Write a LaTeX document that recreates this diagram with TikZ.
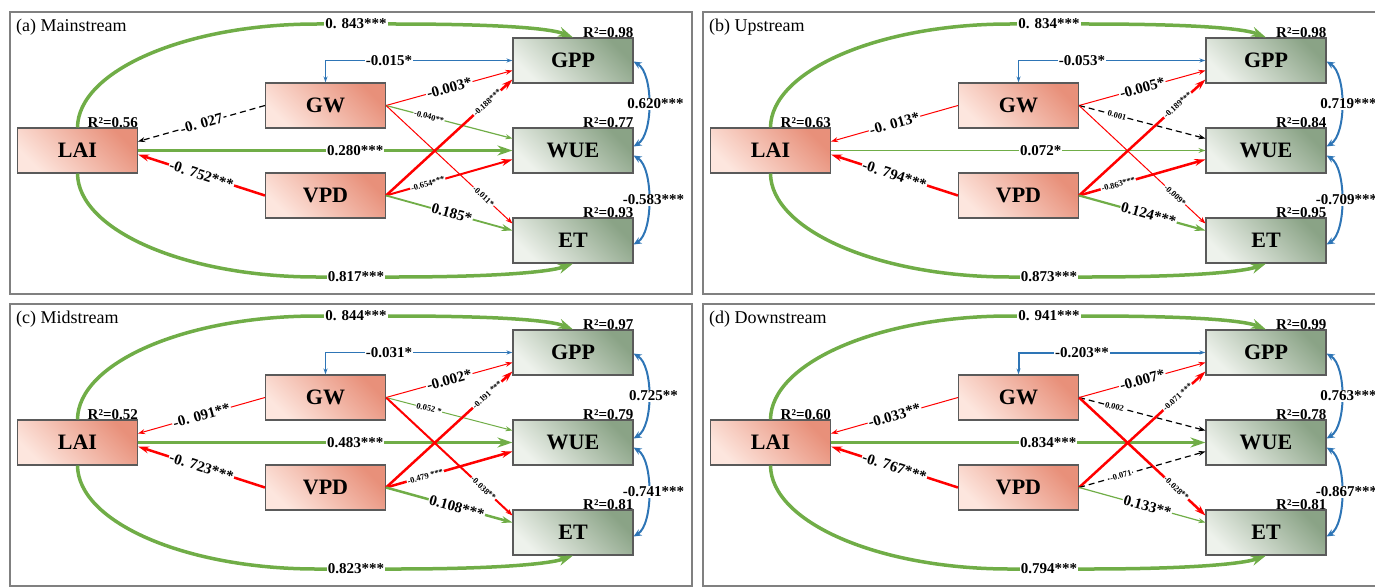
\documentclass[tikz,border=0pt]{standalone}
\usepackage{fontspec}
\setmainfont{Liberation Serif}
\usetikzlibrary{arrows.meta,calc}
\definecolor{mygreen}{HTML}{70AD47}
\definecolor{myred}{HTML}{FF0000}
\definecolor{myblue}{HTML}{2E75B6}
\definecolor{pinkD}{HTML}{E8907A}
\definecolor{pinkL}{HTML}{FDE6DE}
\definecolor{sageD}{HTML}{8AA386}
\definecolor{sageL}{HTML}{EEF2EC}
\definecolor{boxline}{HTML}{5A5A5A}
\definecolor{frameline}{HTML}{808080}
\tikzset{
  panelframe/.style={draw=frameline,line width=1.2pt},
  ttl/.style={anchor=west,inner sep=0pt,font=\fontsize{18}{20}\selectfont},
  basebox/.style={draw=boxline,line width=1.1pt,minimum width=120pt,minimum height=45pt,inner sep=0pt,font=\fontsize{22}{24}\selectfont\bfseries},
  pbox/.style={basebox,top color=pinkD,bottom color=pinkL,shading angle=-45},
  gbox/.style={basebox,top color=sageD,bottom color=sageL,shading angle=-45},
  r2/.style={anchor=south east,inner sep=0pt,font=\fontsize{15}{16}\selectfont\bfseries},
  lbl/.style={fill=white,inner sep=1pt,font=\fontsize{15}{16}\selectfont\bfseries},
  slbl/.style={fill=white,inner sep=0.8pt,sloped,font=\fontsize{8.5}{9}\selectfont\bfseries},
  lw/.style={line width=#1},
  cg/.style={draw=mygreen},
  cr/.style={draw=myred},
  cb/.style={draw=myblue},
  ck/.style={draw=black,dash pattern=on 6pt off 4pt},
  arS/.style={-{Stealth[length=7pt,width=5pt]}},
  arM/.style={-{Stealth[length=11pt,width=7pt]}},
  arL/.style={-{Stealth[length=15pt,width=10pt]}},
  arBS/.style={{Stealth[length=6pt,width=4pt]}-{Stealth[length=6pt,width=4pt]}},
  arB/.style={{Stealth[length=8pt,width=7pt]}-{Stealth[length=8pt,width=7pt]}},
}
\newcommand\panelboxes[6]{%
  \draw[panelframe] (10,12) rectangle (692,294);
  \node[ttl] (#1T) at (16,27) {#2};
  \node[pbox] (#1LAI) at (77.5,150.5) {LAI};
  \node[pbox] (#1GW) at (325.5,105.5) {GW};
  \node[pbox] (#1VPD) at (325.5,195.5) {VPD};
  \node[gbox] (#1GPP) at (573,60.5) {GPP};
  \node[gbox] (#1WUE) at (573,150.5) {WUE};
  \node[gbox] (#1ET) at (573,240.5) {ET};
  \node[r2] (#1rL) at (#1LAI.north east) {R²=#3};
  \node[r2] (#1rG) at (#1GPP.north east) {R²=#4};
  \node[r2] (#1rW) at (#1WUE.north east) {R²=#5};
  \node[r2] (#1rE) at (#1ET.north east) {R²=#6};
}
\begin{document}
\begin{tikzpicture}[x=1pt,y=-1pt]
\useasboundingbox (0,0) rectangle (1375,586);
% ---------------- (a)
\begin{scope}
\panelboxes{a}{(a) Mainstream}{0.56}{0.98}{0.77}{0.93}
\draw[cg,lw=3.5,arL] (aLAI.north) .. controls (78,71) and (185,24) .. (317,24) -- node[lbl]{0. 843***} (395,24) .. controls (495,24) and (550,28) .. (aGPP.north);
\draw[cg,lw=3.5,arL] (aLAI.south) .. controls (78,230) and (185,277) .. (317,277) -- node[lbl]{0.817***} (395,277) .. controls (495,277) and (550,272) .. (aET.south);
\draw[cg,lw=3,arL] (aLAI.east) -- node[lbl,pos=0.58]{0.280***} (aWUE.west);
\draw[ck,lw=1.2,arS] (aGW.west) -- node[lbl,sloped]{-0. 027} ($(aLAI.east)+(0,-9)$);
\draw[cr,lw=2.5,arM] (aVPD.west) -- node[lbl,sloped]{-0. 752***} ($(aLAI.east)+(0,4)$);
\draw[cb,lw=1,arBS] (aGW.north) |- node[lbl,pos=0.67]{-0.015*} (aGPP.west);
\draw[cr,lw=1,arS] (aGW.east) -- node[lbl,sloped]{-0.003*} ($(aGPP.west)+(0,10)$);
\draw[cg,lw=1.2,arS] (aGW.east) -- node[slbl,pos=0.34]{-0.040**} ($(aWUE.west)+(0,-12)$);
\draw[cr,lw=1,arS] (aGW.east) -- node[slbl,pos=0.77]{-0.011*} ($(aET.west)+(0,-17)$);
\draw[cr,lw=2.5,arM] (aVPD.east) -- node[slbl,pos=0.8]{-0.188***} ($(aGPP.west)+(0,19)$);
\draw[cr,lw=2,arM] (aVPD.east) -- node[slbl,pos=0.33]{-0.654***} ($(aWUE.west)+(0,9)$);
\draw[cg,lw=1.8,arM] (aVPD.east) -- node[lbl,sloped,pos=0.52]{0.185*} ($(aET.west)+(0,-10)$);
\draw[cb,lw=2,arB] ($(aGPP.east)+(0,1)$) .. controls +(20,12) and +(20,-12) .. node[lbl,xshift=7pt]{0.620***} ($(aWUE.east)+(0,-4)$);
\draw[cb,lw=2,arB] ($(aWUE.east)+(0,5)$) .. controls +(20,12) and +(20,-12) .. node[lbl,xshift=5pt]{-0.583***} ($(aET.east)+(0,4)$);
\end{scope}
% ---------------- (b)
\begin{scope}[shift={(693,0)}]
\panelboxes{b}{(b) Upstream}{0.63}{0.98}{0.84}{0.95}
\draw[cg,lw=3.5,arL] (bLAI.north) .. controls (78,71) and (185,24) .. (317,24) -- node[lbl]{0. 834***} (395,24) .. controls (495,24) and (550,28) .. (bGPP.north);
\draw[cg,lw=3.5,arL] (bLAI.south) .. controls (78,230) and (185,277) .. (317,277) -- node[lbl]{0.873***} (395,277) .. controls (495,277) and (550,272) .. (bET.south);
\draw[cg,lw=1,arS] (bLAI.east) -- node[lbl,pos=0.56]{0.072*} (bWUE.west);
\draw[cr,lw=1,arS] (bGW.west) -- node[lbl,sloped]{-0. 013*} ($(bLAI.east)+(0,-9)$);
\draw[cr,lw=2.5,arM] (bVPD.west) -- node[lbl,sloped]{-0. 794***} ($(bLAI.east)+(0,4)$);
\draw[cb,lw=1,arBS] (bGW.north) |- node[lbl,pos=0.67]{-0.053*} (bGPP.west);
\draw[cr,lw=1,arS] (bGW.east) -- node[lbl,sloped]{-0.005*} ($(bGPP.west)+(0,10)$);
\draw[ck,lw=1.2,arS] (bGW.east) -- node[slbl,pos=0.3]{0.001} ($(bWUE.west)+(0,-12)$);
\draw[cr,lw=1,arS] (bGW.east) -- node[slbl,pos=0.76]{-0.009*} ($(bET.west)+(0,-17)$);
\draw[cr,lw=2.5,arM] (bVPD.east) -- node[slbl,pos=0.78]{-0.189***} ($(bGPP.west)+(0,19)$);
\draw[cr,lw=2.5,arM] (bVPD.east) -- node[slbl,pos=0.31]{-0.863***} ($(bWUE.west)+(0,9)$);
\draw[cg,lw=2.2,arM] (bVPD.east) -- node[lbl,sloped,pos=0.55]{0.124***} ($(bET.west)+(0,-10)$);
\draw[cb,lw=2,arB] ($(bGPP.east)+(0,1)$) .. controls +(20,12) and +(20,-12) .. node[lbl,xshift=7pt]{0.719***} ($(bWUE.east)+(0,-4)$);
\draw[cb,lw=2,arB] ($(bWUE.east)+(0,5)$) .. controls +(20,12) and +(20,-12) .. node[lbl,xshift=5pt]{-0.709***} ($(bET.east)+(0,4)$);
\end{scope}
% ---------------- (c)
\begin{scope}[shift={(0,292)}]
\panelboxes{c}{(c) Midstream}{0.52}{0.97}{0.79}{0.81}
\draw[cg,lw=3.5,arL] (cLAI.north) .. controls (78,71) and (185,24) .. (317,24) -- node[lbl]{0. 844***} (395,24) .. controls (495,24) and (550,28) .. (cGPP.north);
\draw[cg,lw=3.5,arL] (cLAI.south) .. controls (78,230) and (185,277) .. (317,277) -- node[lbl]{0.823***} (395,277) .. controls (495,277) and (550,272) .. (cET.south);
\draw[cg,lw=3,arL] (cLAI.east) -- node[lbl,pos=0.58]{0.483***} (cWUE.west);
\draw[cr,lw=1,arS] (cGW.west) -- node[lbl,sloped]{-0. 091**} ($(cLAI.east)+(0,-9)$);
\draw[cr,lw=2.5,arM] (cVPD.west) -- node[lbl,sloped]{-0. 723***} ($(cLAI.east)+(0,4)$);
\draw[cb,lw=1,arBS] (cGW.north) |- node[lbl,pos=0.67]{-0.031*} (cGPP.west);
\draw[cr,lw=1,arS] (cGW.east) -- node[lbl,sloped]{-0.002*} ($(cGPP.west)+(0,10)$);
\draw[cg,lw=1,arS] (cGW.east) -- node[slbl,pos=0.34]{0.052 *} ($(cWUE.west)+(0,-12)$);
\draw[cr,lw=2,arS] (cGW.east) -- node[slbl,pos=0.77]{-0.038**} ($(cET.west)+(0,-17)$);
\draw[cr,lw=2.5,arM] (cVPD.east) -- node[slbl,pos=0.8]{-0.191 ***} ($(cGPP.west)+(0,19)$);
\draw[cr,lw=2.5,arM] (cVPD.east) -- node[slbl,pos=0.31]{-0.479 ***} ($(cWUE.west)+(0,9)$);
\draw[cg,lw=2.5,arM] (cVPD.east) -- node[lbl,sloped,pos=0.56]{0.108***} ($(cET.west)+(0,-10)$);
\draw[cb,lw=2,arB] ($(cGPP.east)+(0,1)$) .. controls +(20,12) and +(20,-12) .. node[lbl,xshift=5pt]{0.725**} ($(cWUE.east)+(0,-4)$);
\draw[cb,lw=2,arB] ($(cWUE.east)+(0,5)$) .. controls +(20,12) and +(20,-12) .. node[lbl,xshift=5pt]{-0.741***} ($(cET.east)+(0,4)$);
\end{scope}
% ---------------- (d)
\begin{scope}[shift={(693,292)}]
\panelboxes{d}{(d) Downstream}{0.60}{0.99}{0.78}{0.81}
\draw[cg,lw=3.5,arL] (dLAI.north) .. controls (78,71) and (185,24) .. (317,24) -- node[lbl]{0. 941***} (395,24) .. controls (495,24) and (550,28) .. (dGPP.north);
\draw[cg,lw=3.5,arL] (dLAI.south) .. controls (78,230) and (185,277) .. (317,277) -- node[lbl]{0.794***} (395,277) .. controls (495,277) and (550,272) .. (dET.south);
\draw[cg,lw=3,arL] (dLAI.east) -- node[lbl,pos=0.58]{0.834***} (dWUE.west);
\draw[cr,lw=1,arS] (dGW.west) -- node[lbl,sloped]{-0.033**} ($(dLAI.east)+(0,-9)$);
\draw[cr,lw=2.5,arM] (dVPD.west) -- node[lbl,sloped]{-0. 767***} ($(dLAI.east)+(0,4)$);
\draw[cb,lw=2,arBS] (dGW.north) |- node[lbl,pos=0.67]{-0.203**} (dGPP.west);
\draw[cr,lw=1,arS] (dGW.east) -- node[lbl,sloped]{-0.007*} ($(dGPP.west)+(0,10)$);
\draw[ck,lw=1.2,arS] (dGW.east) -- node[slbl,pos=0.28]{0.002} ($(dWUE.west)+(0,-12)$);
\draw[cr,lw=2.5,arM] (dGW.east) -- node[slbl,pos=0.77]{-0.028**} ($(dET.west)+(0,-17)$);
\draw[cr,lw=2.5,arM] (dVPD.east) -- node[slbl,pos=0.78]{-0.071 ***} ($(dGPP.west)+(0,19)$);
\draw[ck,lw=1.2,arS] (dVPD.east) -- node[slbl,pos=0.33]{-0.071} ($(dWUE.west)+(0,9)$);
\draw[cg,lw=1.2,arS] (dVPD.east) -- node[lbl,sloped,pos=0.54]{0.133**} ($(dET.west)+(0,-10)$);
\draw[cb,lw=2,arB] ($(dGPP.east)+(0,1)$) .. controls +(20,12) and +(20,-12) .. node[lbl,xshift=7pt]{0.763***} ($(dWUE.east)+(0,-4)$);
\draw[cb,lw=2,arB] ($(dWUE.east)+(0,5)$) .. controls +(20,12) and +(20,-12) .. node[lbl,xshift=5pt]{-0.867***} ($(dET.east)+(0,4)$);
\end{scope}
\end{tikzpicture}
\end{document}
